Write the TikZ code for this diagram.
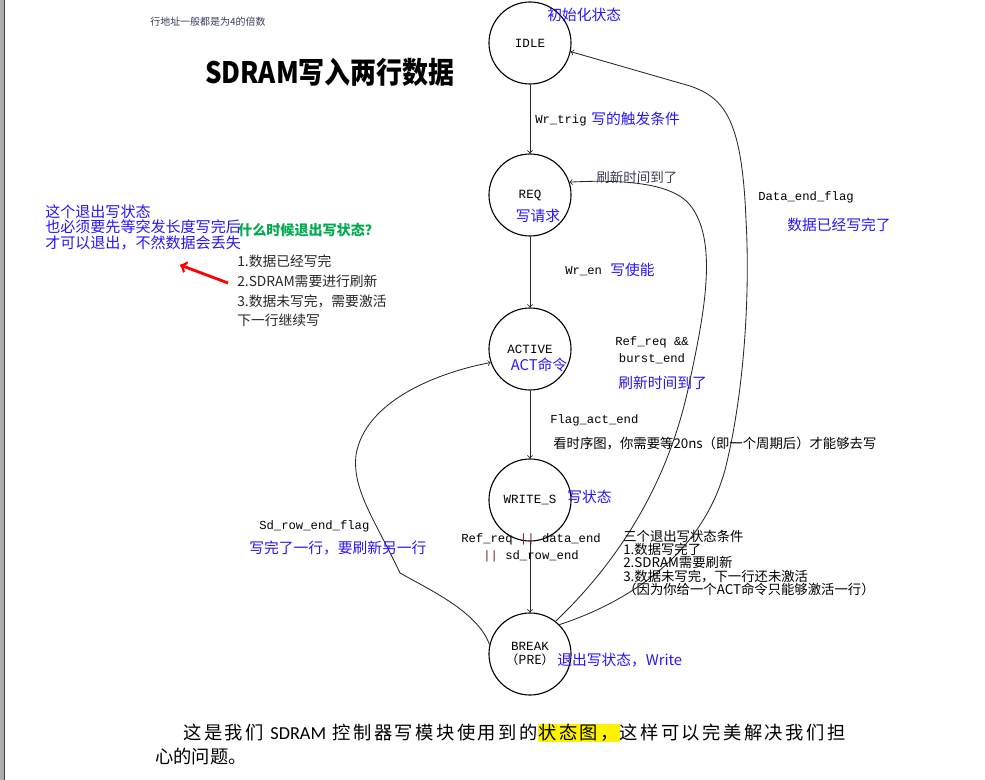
\documentclass[tikz,border=0pt]{standalone}
\usepackage{fontspec}
\setmonofont{Liberation Mono}
\newfontfamily\cjk{Noto Sans CJK SC}
\newfontfamily\cjkwide{Noto Sans CJK SC}[LetterSpace=13.5]
\newfontfamily\bodyfont{Carlito}
\usetikzlibrary{
    arrows,
    positioning,
    calc,
}
\definecolor{annot}{RGB}{40,20,250}
\definecolor{notegray}{RGB}{55,60,90}
\definecolor{askgreen}{RGB}{0,170,80}
\definecolor{pipered}{RGB}{120,30,30}

\begin{document}
\begin{tikzpicture}[
    x=0.025cm, y=-0.025cm,
    state/.style={draw, circle, line width=0.8pt, minimum size=2.05cm, inner sep=0pt, align=center, text=black, font=\ttfamily\fontsize{8.9}{11}\selectfont},
    cond/.style={anchor=west, text=black, inner sep=0pt, align=left, font=\ttfamily\fontsize{8.7}{12}\selectfont},
    note/.style={anchor=west, text=annot, inner sep=0pt, align=left, font=\cjk\fontsize{10.5}{12}\selectfont},
    small/.style={anchor=west, text=black, inner sep=0pt, align=left, font=\cjk\fontsize{9.5}{9.3}\selectfont},
    trans/.style={->, line width=0.6pt, black!85},
    ]

\useasboundingbox (0,0) rectangle (985,780);
\fill[gray!65] (0,0) rectangle (4,780);
\draw[black!75, line width=1pt] (4.5,0) -- (4.5,780);

% states
\node[state] at (530,43) (idle) {IDLE};
\node[state] at (530,195) (req) {REQ};
\node[state] at (530,349) (active) {ACTIVE};
\node[state] at (530,500) (writes) {WRITE\_S};
\node[state] at (530,654) (brk) {BREAK\\[-1pt]{\cjk （PRE）}};

\draw[trans] (idle) -- (req);
\draw[trans] (req) -- (active);
\draw[trans] (active) -- (writes);
\draw[trans] (writes) -- (brk);

\draw[trans] (brk.45) .. controls (620,605) and (700,560) .. (725,470)
    .. controls (745,390) and (750,290) .. (746,220)
    .. controls (742,120) and (725,98) .. (690,86) -- (idle.-12);
\draw[trans] (brk.52) .. controls (620,560) and (670,480) .. (690,380)
    .. controls (705,310) and (718,240) .. (690,205)
    .. controls (670,180) and (610,180) .. (req.18);
\draw[trans] (brk.167) .. controls (478,612) and (430,590) .. (400,573)
    .. controls (375,520) and (352,490) .. (356,455)
    .. controls (365,400) and (440,372) .. (active.199);

% labels on the transitions
\node[cond] at (535,120) (wrtrig) {Wr\_trig};
\node[note] at (591,119) (wrtrigcn) {写的触发条件};
\node[anchor=west, inner sep=0pt, text=notegray, font=\cjk\fontsize{9.6}{11}\selectfont] at (596,177) (refcn) {刷新时间到了};
\node[cond] at (758,197) (dataend) {Data\_end\_flag};
\node[note] at (787,225) (dataendcn) {数据已经写完了};
\node[cond] at (565,271) (wren) {Wr\_en};
\node[note] at (610,270) (wrencn) {写使能};
\node[cond, anchor=center, align=center] at (652,350) (refreq) {Ref\_req \&\&\\burst\_end};
\node[note] at (618,383) (refreqcn) {刷新时间到了};
\node[cond] at (550,420) (flagact) {Flag\_act\_end};
\node[small] at (553,443) (timing) {看时序图，你需要等20ns（即一个周期后）才能够去写};
\node[cond] at (259,526) (sdrow) {Sd\_row\_end\_flag};
\node[note] at (249,548) (sdrowcn) {写完了一行，要刷新另一行};
\node[cond, anchor=center, align=center] at (531,548) (breakcond)
    {Ref\_req {\color{pipered}||} data\_end\\{\color{pipered}||} sd\_row\_end};
\node[small] at (623,563) (exitlist)
    {三个退出写状态条件\\1.数据写完了\\2.SDRAM需要刷新\\3.数据未写完，下一行还未激活\\ （因为你给一个ACT命令只能够激活一行）};

% notes beside the states
\node[note] at (547,15) (idlecn) {初始化状态};
\node[note, anchor=center] at (538,216) (reqcn) {写请求};
\node[note, anchor=center] at (539,365) (activecn) {ACT命令};
\node[note] at (567,497) (writecn) {写状态};
\node[note] at (557,660) (brkcn) {退出写状态，Write};

% notes on the left
\node[anchor=west, inner sep=0pt, text=notegray, font=\cjk\fontsize{7.1}{9}\selectfont] at (150,22) (rownote) {行地址一般都是为4的倍数};
\node[anchor=west, inner sep=0pt, font=\cjk\bfseries\fontsize{21}{24}\selectfont] at (205,72) (title) {\scalebox{0.88}[1]{SDRAM写入两行数据}};
\node[note, font=\cjk\fontsize{10.7}{11}\selectfont] at (45,227) (exitwarn) {这个退出写状态\\也必须要先等突发长度写完后\\才可以退出，不然数据会丢失};
\node[anchor=west, inner sep=0pt, text=askgreen, font=\cjk\bfseries\fontsize{10}{12}\selectfont] at (238,230) (ask) {什么时候退出写状态？};
\node[small, font=\cjk\fontsize{9.8}{13.9}\selectfont, text=black!85] at (237,291) (answer) {1.数据已经写完\\2.SDRAM需要进行刷新\\3.数据未写完，需要激活\\下一行继续写};
\coordinate (redtail) at (228,283);
\coordinate (redtip) at (180,265);
\draw[->, red, line width=2pt] (redtail) -- (redtip);

% caption
\setlength{\fboxsep}{0.5pt}
\node[anchor=west, inner sep=0pt, font=\cjkwide\fontsize{13}{16}\selectfont] at (183,733) (cap1)
    {这是我们 {\bodyfont SDRAM} 控制器写模块使用到的\colorbox{yellow}{状态图，}这样可以完美解决我们担};
\node[anchor=west, inner sep=0pt, font=\cjk\fontsize{13}{16}\selectfont] at (155,757) (cap2) {心的问题。};

\end{tikzpicture}
\end{document}
